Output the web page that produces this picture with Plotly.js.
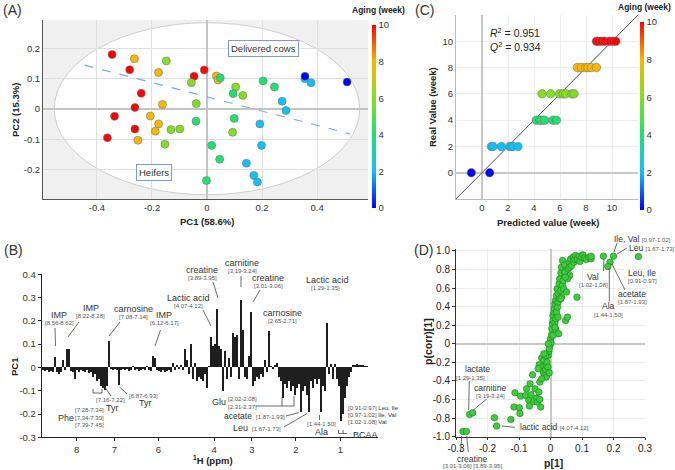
<!DOCTYPE html>
<html>
<head>
<meta charset="utf-8">
<script src="https://cdn.plot.ly/plotly-3.0.1.min.js"></script>
<style>
  html, body { margin: 0; padding: 0; background: #fff; }
  #chart { width: 675px; height: 470px; }
</style>
</head>
<body>
<div id="chart"></div>
<script>
const W = 675, H = 470;
const FONT = 'Arial, "Liberation Sans", sans-serif';

// === (A) PCA scores ===
const pcaWeek = [10,10,10,10,10,10,10,10,10, 8,8,8,8,8,8,8,8,8,
  6,6,6,6,6,6,6,6,6, 4,4,4,4,4,4,4,4,4, 2,2,2,2,2,2,2,2,2, 0,0];
const pcaPC1 = [-0.345,-0.281,-0.239,-0.262,-0.336,-0.262,-0.362,-0.047,-0.010,
  -0.264,-0.176,-0.162,-0.206,-0.176,-0.188,-0.251,0.034,0.040,
  -0.148,-0.057,-0.039,-0.131,-0.099,-0.153,0.104,0.130,0.093,
  -0.040,0.048,0.095,0.099,0.204,0.245,0.017,0.046,-0.002,
  0.273,0.287,0.192,0.198,0.143,0.170,0.183,0.356,0.378,
  0.356,0.509];
const pcaPC2 = [0.180,0.130,0.052,0.005,-0.024,-0.066,-0.095,0.108,0.129,
  0.166,0.121,0.015,-0.023,-0.049,-0.073,-0.103,0.109,0.096,
  0.159,0.087,0.018,-0.068,-0.066,-0.116,0.073,0.045,-0.077,
  -0.040,0.103,0.051,-0.031,0.093,0.073,-0.120,-0.166,-0.236,
  0.026,-0.005,-0.049,-0.120,-0.179,-0.219,-0.241,0.100,0.087,
  0.108,0.089];
const sepX = [-0.445, 0.52];
const sepY = [0.145, -0.082];

// === (C) PLS prediction ===
const plsPred = [-0.82,0.59,
  0.72,0.85,1.49,2.13,2.26,2.38,2.77,
  4.18,4.44,4.57,4.82,5.46,5.72,
  4.62,5.28,5.97,6.23,6.44,6.92,7.08,
  7.34,7.65,7.98,8.15,8.41,8.80,
  8.80,8.92,9.18,9.44,9.82,10.08,10.29];
const plsReal = [0,0, 2,2,2,2,2,2,2, 4,4,4,4,4,4, 6,6,6,6,6,6,6, 8,8,8,8,8,8, 10,10,10,10,10,10,10];

// === (B) PC1 loadings per spectral bucket ===
const loadings = [
  -0.01,-0.015,-0.01,-0.02,-0.015,-0.02,0.045,-0.02,-0.03,-0.02,
  0.03,-0.01,0.08,0.08,-0.015,-0.02,-0.05,-0.01,-0.02,-0.01,
  -0.015,-0.02,-0.01,-0.025,-0.02,-0.04,-0.03,-0.06,-0.05,-0.08,
  -0.09,-0.095,-0.08,0.115,-0.005,-0.01,-0.005,-0.01,-0.075,-0.01,
  -0.005,-0.01,-0.005,-0.015,-0.01,0.005,-0.01,-0.005,-0.015,-0.01,
  -0.005,-0.01,0.005,-0.01,-0.015,0.05,0.04,-0.01,-0.015,-0.02,
  -0.01,-0.02,-0.015,-0.01,-0.02,0.02,-0.01,0.01,-0.005,0.01,
  -0.01,0.08,0.03,-0.03,0.1,-0.05,0.02,-0.06,-0.04,-0.05,
  -0.06,-0.03,-0.09,0.005,0.13,0.09,0.1,0.25,0.09,0.08,
  -0.1,0.07,-0.05,0.04,-0.04,0.15,0.13,0.14,-0.05,0.29,
  0.16,-0.04,-0.05,0.05,0.24,-0.08,-0.06,-0.04,-0.05,-0.03,
  -0.04,0.03,-0.02,0.155,0.005,-0.005,0.01,0.02,-0.04,-0.06,
  -0.13,-0.07,-0.09,-0.06,-0.1,-0.08,-0.12,-0.09,-0.07,-0.19,
  -0.1,-0.08,-0.12,-0.19,-0.06,-0.09,-0.05,-0.07,-0.05,-0.19,
  -0.08,-0.1,0.19,-0.03,0.015,-0.05,0.015,-0.05,-0.08,-0.23,
  -0.2,-0.13,-0.08,-0.04,-0.02,0.01,0.012,0.015,0.01,0.012,
  0.01,0.008,0.006,0.004];
const ppmTickPos = [17, 35.8, 57.8, 85.65, 104.5, 126.5, 148.65];
const ppmTickText = ['8', '7', '6', '4', '3', '2', '1'];

// === (D) S-plot ===
const sP = [-0.278,-0.267,-0.257,-0.247,-0.178,-0.171,-0.126,-0.116,-0.113,-0.099,
  -0.097,-0.095,-0.079,-0.076,-0.069,-0.067,-0.065,-0.062,-0.057,-0.053,
  -0.049,-0.044,-0.042,-0.037,-0.034,-0.031,-0.034,-0.036,-0.028,-0.026,
  -0.023,-0.021,-0.019,-0.016,-0.013,-0.013,-0.011,-0.008,-0.007,-0.005,
  -0.004,-0.002,0.000,0.002,0.003,0.004,0.006,0.008,0.008,0.011,
  0.012,0.014,0.014,0.016,0.017,0.017,0.019,0.019,0.021,0.022,
  0.024,0.026,0.025,0.027,0.029,0.029,0.032,0.033,0.035,0.035,
  0.038,0.038,0.040,0.042,0.045,0.045,0.048,0.051,0.054,0.056,
  0.059,0.061,0.064,0.067,0.072,0.074,0.077,0.079,0.084,0.085,
  0.091,0.093,0.098,0.103,0.108,0.114,0.122,0.129,0.129,0.061,
  0.054,0.047,0.033,0.024,0.014,0.008,-0.004,-0.007,-0.015,-0.021,
  -0.028,-0.039,0.168,0.200,0.189,0.182,0.279];
const sPcorr = [-0.943,-0.943,-0.760,-0.742,-0.796,-0.885,-0.814,-0.681,-0.527,-0.688,
  -0.749,-0.563,-0.556,-0.484,-0.609,-0.670,-0.430,-0.548,-0.333,-0.620,
  -0.484,-0.584,-0.627,-0.520,-0.599,-0.681,-0.412,-0.226,-0.154,-0.251,
  -0.305,-0.179,-0.341,-0.276,-0.233,-0.358,-0.197,-0.251,-0.125,-0.082,
  -0.312,-0.018,0.054,0.011,0.097,0.161,0.215,0.305,0.251,0.341,
  0.384,0.430,0.226,0.466,0.151,0.269,0.520,0.341,0.591,0.394,
  0.448,0.108,0.538,0.645,0.484,0.699,0.573,0.763,0.502,0.824,
  0.896,0.627,0.681,0.591,0.771,0.849,0.251,0.556,0.287,0.806,
  0.878,0.824,0.914,0.842,0.932,0.878,0.907,0.950,0.502,0.914,
  0.943,0.885,0.932,0.957,0.921,0.907,0.932,0.914,0.943,0.735,
  0.699,0.717,0.484,0.287,0.179,0.090,-0.054,0.000,-0.125,-0.108,
  -0.376,-0.269,0.943,0.943,0.878,0.832,0.939];

// === helpers for layout placement (pixels -> paper) ===
const PX = x => x / W;
const PY = y => 1 - y / H;
const baseFont = (size, color, bold) => ({ family: FONT, size: size, color: color || '#333', weight: bold ? 'bold' : 'normal' });

function txt(x, y, text, size, opts) {
  return Object.assign({
    xref: 'paper', yref: 'paper', x: PX(x), y: PY(y), text: text,
    showarrow: false, xanchor: 'center', yanchor: 'middle',
    font: baseFont(size || 10)
  }, opts || {});
}
function rng(x, y, text, opts) {
  return txt(x, y, text, 6, Object.assign({ font: baseFont(6, '#555') }, opts || {}));
}
function seg(x0, y0, x1, y1) {
  return { type: 'line', xref: 'paper', yref: 'paper',
    x0: PX(x0), y0: PY(y0), x1: PX(x1), y1: PY(y1),
    line: { color: '#444', width: 0.8 } };
}
const bold = (size, angle) => Object.assign({ font: baseFont(size, '#222', true) }, angle ? { textangle: angle } : {});

const scale = [[0, '#0000ff'], [0.2, '#10c0f8'], [0.4, '#20e070'], [0.6, '#80e020'], [0.8, '#f8b800'], [1, '#ff0000']];
const cbar = (x, yc, len) => ({
  x: x, xanchor: 'left', y: yc, yanchor: 'middle', len: len, lenmode: 'fraction',
  thickness: 4, xpad: 0, ypad: 0, outlinewidth: 0, ticks: '',
  tickvals: [0, 2, 4, 6, 8, 10], tickfont: baseFont(9.5, '#333')
});

const traces = [
  { x: sepX, y: sepY, xaxis: 'x', yaxis: 'y', mode: 'lines', hoverinfo: 'skip',
    line: { color: '#7aaee0', width: 1.2, dash: 'dash' } },
  { x: pcaPC1, y: pcaPC2, xaxis: 'x', yaxis: 'y', mode: 'markers', type: 'scatter',
    marker: { size: 8, color: pcaWeek, cmin: 0, cmax: 10, colorscale: scale,
      line: { color: '#777', width: 0.6 }, showscale: true,
      colorbar: cbar(372 / W, PY(116.5), 183 / H) } },
  { x: [-2, 12], y: [-2, 12], xaxis: 'x2', yaxis: 'y2', mode: 'lines',
    line: { color: '#222', width: 0.8 } },
  { x: plsPred, y: plsReal, xaxis: 'x2', yaxis: 'y2', mode: 'markers', type: 'scatter',
    marker: { size: 8.5, color: plsReal, cmin: 0, cmax: 10, colorscale: scale,
      line: { color: '#777', width: 0.6 }, showscale: true,
      colorbar: cbar(640 / W, PY(116), 188 / H) } },
  { x: loadings.map((v, i) => i), y: loadings, xaxis: 'x3', yaxis: 'y3', type: 'bar',
    marker: { color: '#1e1e1e', line: { width: 0 } } },
  { x: sP, y: sPcorr, xaxis: 'x4', yaxis: 'y4', mode: 'markers', type: 'scatter',
    marker: { size: 6.5, color: '#3ccc3c', line: { color: '#1f7f1f', width: 0.6 } } }
];

const tickF = baseFont(9.5, '#333');
const layout = {
  width: W, height: H, margin: { l: 0, r: 0, t: 0, b: 0 },
  paper_bgcolor: '#fff', plot_bgcolor: 'rgba(0,0,0,0)',
  showlegend: false, bargap: 0, font: { family: FONT },
  xaxis: { domain: [43 / W, 368 / W], anchor: 'y', range: [-0.596, 0.585],
    tickvals: [-0.4, -0.2, 0, 0.2, 0.4], ticktext: ['-0.4', '-0.2', '0', '0.2', '0.4'],
    showline: true, linecolor: '#555', gridcolor: '#e0e0e0', zeroline: true,
    zerolinecolor: '#c4c4c4', zerolinewidth: 2, ticks: '', tickfont: tickF },
  yaxis: { domain: [PY(199), PY(20)], anchor: 'x', range: [-0.297, 0.294],
    tickvals: [-0.2, -0.1, 0, 0.1, 0.2], ticktext: ['-0.2', '-0.1', '0', '0.1', '0.2'],
    showline: true, linecolor: '#555', gridcolor: '#e0e0e0', zeroline: true,
    zerolinecolor: '#c4c4c4', zerolinewidth: 2, ticks: '', tickfont: tickF },
  xaxis2: { domain: [456 / W, 638 / W], anchor: 'y2', range: [-2, 12],
    tickvals: [0, 2, 4, 6, 8, 10], showline: true, linecolor: '#bbb', gridcolor: '#eeeeee',
    zeroline: true, zerolinecolor: '#c8c8c8', zerolinewidth: 2, ticks: '', tickfont: tickF },
  yaxis2: { domain: [PY(199), PY(15)], anchor: 'x2', range: [-2, 12],
    tickvals: [0, 2, 4, 6, 8, 10], showline: true, linecolor: '#bbb', gridcolor: '#eeeeee',
    zeroline: true, zerolinecolor: '#c8c8c8', zerolinewidth: 2, ticks: '', tickfont: tickF },
  xaxis3: { domain: [41.7 / W, 378 / W], anchor: 'y3', range: [-0.5, 167.5],
    tickvals: ppmTickPos, ticktext: ppmTickText, showline: true, linecolor: '#222',
    showgrid: false, zeroline: false, ticks: 'outside', ticklen: 3, tickcolor: '#222', tickfont: tickF },
  yaxis3: { domain: [PY(437.3), PY(274.3)], anchor: 'x3', range: [-0.3, 0.4],
    tickvals: [-0.3, -0.2, -0.1, 0, 0.1, 0.2, 0.3, 0.4],
    ticktext: ['-0.3', '-0.2', '-0.1', '0', '0.1', '0.2', '0.3', '0.4'],
    showline: true, linecolor: '#222', showgrid: false, zeroline: false,
    ticks: 'outside', ticklen: 3, tickcolor: '#222', tickfont: tickF },
  xaxis4: { domain: [456 / W, 645 / W], anchor: 'y4', range: [-0.3, 0.3],
    tickvals: [-0.3, -0.2, -0.1, 0, 0.1, 0.2, 0.3],
    ticktext: ['-0.3', '-0.2', '-0.1', '0', '0.1', '0.2', '0.3'],
    showline: true, linecolor: '#333', gridcolor: '#ececec', zeroline: true,
    zerolinecolor: '#c8c8c8', zerolinewidth: 2, ticks: 'outside', ticklen: 2,
    tickcolor: '#333', tickfont: baseFont(10, '#222') },
  yaxis4: { domain: [PY(436.7), PY(249)], anchor: 'x4', range: [-1.0, 1.02],
    tickvals: [-1, -0.8, -0.6, -0.4, -0.2, 0, 0.2, 0.4, 0.6, 0.8, 1],
    ticktext: ['-1.0', '-0.8', '-0.6', '-0.4', '-0.2', '0', '0.2', '0.4', '0.6', '0.8', '1.0'],
    showline: true, linecolor: '#333', gridcolor: '#ececec', zeroline: true,
    zerolinecolor: '#c8c8c8', zerolinewidth: 2, ticks: 'outside', ticklen: 3,
    tickcolor: '#333', tickfont: baseFont(10, '#222') },
  shapes: [
    { type: 'rect', xref: 'x domain', yref: 'y domain', x0: 0, x1: 1, y0: 0, y1: 1,
      fillcolor: '#f0f0f0', line: { width: 0 }, layer: 'below' },
    { type: 'circle', xref: 'x', yref: 'y', x0: -0.555, x1: 0.555, y0: -0.283, y1: 0.285,
      fillcolor: '#ffffff', line: { color: '#cfcfcf', width: 1 }, layer: 'below' },
    // (B) pointer lines
    seg(55, 328, 55.5, 346), seg(79, 322, 68, 337), seg(120, 322, 109, 336),
    seg(160.5, 330, 155, 346), seg(203, 310, 211, 326), seg(213, 282, 218, 298),
    seg(241, 276, 241, 287), seg(260, 290, 253, 302),
    seg(119.5, 387, 127, 394), seg(104, 386, 111, 396),
    seg(93, 389, 93, 393), seg(93, 393, 102, 393), seg(102, 389, 102, 393),
    seg(256, 406, 294, 406), seg(282, 397, 282, 406), seg(294, 396, 294, 406),
    seg(286, 416, 299, 412.5), seg(284, 427, 307, 413.5), seg(319.5, 415, 319.5, 420),
    seg(338.5, 430, 338.5, 433.5), seg(338.5, 433.5, 347, 433.5), seg(343, 430, 343, 433.5),
    // (D) pointer lines
    seg(617, 243, 614, 252), seg(627, 248, 617, 254), seg(603.5, 271, 604, 259),
    seg(625, 290, 612, 264), seg(609.3, 301, 609.3, 268.5),
    seg(469.3, 381, 468.7, 410), seg(486.7, 399, 473.3, 410),
    seg(515, 427.3, 502, 426), seg(461.7, 436, 460.7, 452), seg(466.7, 436, 468.3, 452)
  ],
  annotations: [
    // panel letters
    txt(12, 10, '(A)', 14), txt(13, 250, '(B)', 14), txt(424, 10, '(C)', 14), txt(423, 250, '(D)', 14),
    // axis titles
    txt(207, 221, 'PC1 (58.6%)', 9.5, bold(9.5)),
    txt(15, 110, 'PC2 (15.3%)', 9.5, bold(9.5, -90)),
    txt(548, 223, 'Predicted value (week)', 9.5, bold(9.5)),
    txt(432, 107, 'Real Value (week)', 9.5, bold(9.5, -90)),
    txt(14, 367, 'PC1', 9.5, bold(9.5, -90)),
    txt(213, 460, '<sup>1</sup>H (ppm)', 9.5, bold(9.5)),
    txt(553, 463, 'p[1]', 10.5, bold(10.5)),
    txt(428, 342, 'p(corr)[1]', 10.5, bold(10.5, -90)),
    // colorbar titles
    txt(378, 10, 'Aging (week)', 8.5, bold(8.5)),
    txt(673, 7, 'Aging (week)', 8.5, Object.assign(bold(8.5), { xanchor: 'right' })),
    // (A) group boxes
    { xref: 'x', yref: 'y', x: 0.204, y: 0.2, text: 'Delivered cows', showarrow: false,
      font: baseFont(9.5, '#333'), bordercolor: '#7b9bd1', borderwidth: 1, borderpad: 2, bgcolor: '#fff' },
    { xref: 'x', yref: 'y', x: -0.191, y: -0.208, text: 'Heifers', showarrow: false,
      font: baseFont(9.5, '#333'), bordercolor: '#7b9bd1', borderwidth: 1, borderpad: 2, bgcolor: '#fff' },
    // (C) statistics
    { xref: 'x2', yref: 'y2', x: 0.45, y: 11.3, xanchor: 'left', yanchor: 'top', showarrow: false, align: 'left',
      text: '<i>R</i><sup>2</sup> = 0.951<br><i>Q</i><sup>2</sup> = 0.934', font: baseFont(10.5, '#222') },
    // (B) labels
    txt(59, 315, 'IMP', 9), rng(59, 323, '[8.56-8.62]'),
    txt(91, 308, 'IMP', 9), rng(91, 316, '[8.22-8.28]'),
    txt(133, 309, 'carnosine', 9), rng(133, 317, '[7.08-7.14]'),
    txt(164, 315, 'IMP', 9), rng(164, 323, '[6.12-6.17]'),
    txt(188, 298, 'Lactic acid', 9), rng(188, 306, '[4.07-4.12]'),
    txt(202, 270, 'creatine', 9), rng(202, 278, '[3.89-3.95]'),
    txt(242, 263, 'carnitine', 9), rng(242, 271, '[3.19-3.24]'),
    txt(268, 278, 'creatine', 9), rng(268, 286, '[3.01-3.06]'),
    txt(282, 313, 'carnosine', 9), rng(282, 321, '[2.65-2.71]'),
    txt(327, 280, 'Lactic acid', 9), rng(325, 288, '[1.29-1.35]'),
    rng(143, 396, '[6.87-6.93]'), txt(145, 403, 'Tyr', 9),
    rng(110, 400, '[7.16-7.22]'), txt(113, 408, 'Tyr', 9),
    rng(89, 410, '[7.28-7.34]'), rng(89, 417.5, '[7.34-7.39]'), rng(89, 425, '[7.39-7.45]'),
    txt(66, 418, 'Phe', 9),
    txt(219, 402, 'Glu', 9), rng(242, 398.5, '[2.02-2.08]'), rng(242, 406.5, '[2.31-2.37]'),
    txt(238, 416, 'acetate', 8.5), rng(270, 416.5, '[1.87-1.93]'),
    txt(240, 428, 'Leu', 9), rng(266, 429, '[1.67-1.73]'),
    rng(321.7, 424, '[1.44-1.50]'), txt(321.7, 432, 'Ala', 9),
    rng(346, 408, '[0.91-0.97] <span style="color:#333">Leu, Ile</span>', { xanchor: 'left' }),
    rng(346, 415, '[0.97-1.02] <span style="color:#333">Ile, Val</span>', { xanchor: 'left' }),
    rng(346, 421.5, '[1.02-1.08] <span style="color:#333">Val</span>', { xanchor: 'left' }),
    txt(351, 435, 'BCAA', 9, { xanchor: 'left' }),
    // (D) labels
    txt(612, 239, 'Ile, Val <span style="font-size:6px;color:#555">[0.97-1.02]</span>', 8.5, { xanchor: 'left' }),
    txt(627, 248, 'Leu <span style="font-size:6px;color:#555">[1.67-1.73]</span>', 8.5, { xanchor: 'left' }),
    txt(642, 273, 'Leu, Ile', 8.5), rng(642, 281, '[0.91-0.97]'),
    txt(593, 277, 'Val', 8.5), rng(593, 284.5, '[1.02-1.08]'),
    txt(632, 294, 'acetate', 8.5), rng(632, 302, '[1.87-1.93]'),
    txt(608.5, 306, 'Ala', 8.5), rng(608.5, 314.5, '[1.44-1.50]'),
    txt(477, 369, 'lactate', 8.5), rng(470, 377.5, '[1.29-1.35]'),
    txt(490, 388, 'carnitine', 8.5), rng(490, 396, '[3.19-3.24]'),
    txt(518, 427, 'lactic acid <span style="font-size:6px;color:#555">[4.07-4.12]</span>', 8.5, { xanchor: 'left' }),
    txt(472, 458.5, 'creatine', 8.5), rng(472, 466, '[3.01-3.06] [3.89-3.95]')
  ]
};

Plotly.newPlot('chart', traces, layout, { staticPlot: true });
</script>
</body>
</html>
